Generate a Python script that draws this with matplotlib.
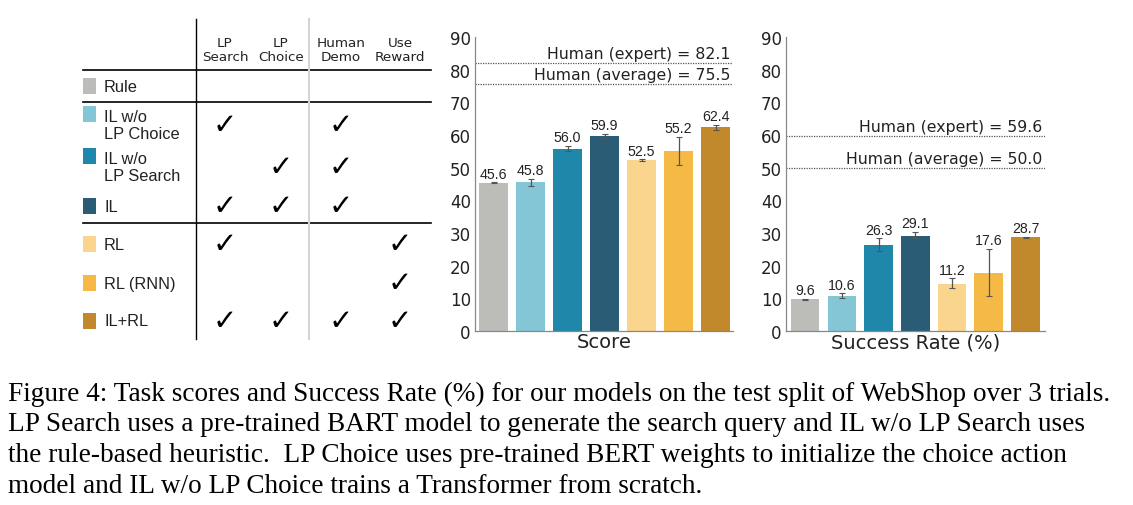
import matplotlib
matplotlib.use("Agg")
import matplotlib.pyplot as plt
from matplotlib.patches import Rectangle

W, H = 1133, 506

methods = ["Rule", "IL w/o\nLP Choice", "IL w/o\nLP Search", "IL", "RL", "RL (RNN)", "IL+RL"]
colors = ["#bcbcb8", "#84c5d6", "#1f87aa", "#2a5c76", "#fad58e", "#f5ba45", "#c1892c"]
columns = ["LP\nSearch", "LP\nChoice", "Human\nDemo", "Use\nReward"]
checks = [
    [0, 0, 0, 0],
    [1, 0, 1, 0],
    [0, 1, 1, 0],
    [1, 1, 1, 0],
    [1, 0, 0, 1],
    [0, 0, 0, 1],
    [1, 1, 1, 1],
]

# bar heights (as drawn), error ranges and printed labels
score = [45.4, 45.6, 55.8, 59.7, 52.3, 55.0, 62.3]
score_lo = [45.3, 44.5, 55.0, 59.2, 52.0, 50.8, 61.5]
score_hi = [45.5, 46.5, 56.7, 60.4, 52.6, 59.4, 63.1]
score_lbl = ["45.6", "45.8", "56.0", "59.9", "52.5", "55.2", "62.4"]
score_human = [("Human (expert) = 82.1", 82.1), ("Human (average) = 75.5", 75.5)]

succ = [9.7, 10.7, 26.4, 29.2, 14.5, 17.7, 28.7]
succ_lo = [9.6, 10.1, 24.5, 28.4, 13.3, 10.7, 28.6]
succ_hi = [9.8, 11.5, 28.4, 30.3, 16.1, 25.1, 28.8]
succ_lbl = ["9.6", "10.6", "26.3", "29.1", "11.2", "17.6", "28.7"]
succ_human = [("Human (expert) = 59.6", 59.6), ("Human (average) = 50.0", 50.0)]

caption = ("Figure 4: Task scores and Success Rate (%) for our models on the test split of WebShop over 3 trials.\n"
           "LP Search uses a pre-trained BART model to generate the search query and IL w/o LP Search uses\n"
           "the rule-based heuristic.  LP Choice uses pre-trained BERT weights to initialize the choice action\n"
           "model and IL w/o LP Choice trains a Transformer from scratch.")

fig = plt.figure(figsize=(W / 100, H / 100), dpi=100)
bg = fig.add_axes([0, 0, 1, 1])
bg.set_xlim(0, W); bg.set_ylim(H, 0); bg.axis("off")

# ---- table on the left (pixel coordinates) ----
col_x = [225, 281, 341, 400]
row_y = [87, 126, 168, 207, 245, 284, 322]
for cx, name in zip(col_x, columns):
    bg.text(cx, 50, name, ha="center", va="center", fontsize=9.7, linespacing=1.1, color="#222")
for yy in [71, 103, 224]:
    bg.plot([83, 431], [yy, yy], color="k", lw=1.2)
bg.plot([196, 196], [20, 340], color="k", lw=1.0)
bg.plot([309, 309], [20, 340], color="#d4d4d4", lw=1.5)
for i, (m, c) in enumerate(zip(methods, colors)):
    y = row_y[i]
    if "\n" in m:
        bg.add_patch(Rectangle((83, y - 19), 13, 16, color=c, lw=0))
        bg.text(104, y, m, ha="left", va="center", fontsize=11.8, family="Liberation Sans",
                linespacing=1.1, color="#222")
    else:
        bg.add_patch(Rectangle((83, y - 8), 13, 16, color=c, lw=0))
        bg.text(104, y, m, ha="left", va="center", fontsize=11.8, family="Liberation Sans", color="#222")
    for j, on in enumerate(checks[i]):
        if on:
            bg.text(col_x[j], y, "\u2713", ha="center", va="center", fontsize=21,
                    fontweight="bold", color="k")

# caption
bg.text(8, 440, caption, ha="left", va="center", fontsize=19.6, family="Liberation Serif",
        linespacing=1.3, color="k")


def bar_panel(x0, x1, vals, lo, hi, lbls, human, xlabel, xlim):
    ax = fig.add_axes([x0 / W, (H - 332) / H, (x1 - x0) / W, (332 - 38) / H])
    xs = list(range(len(vals)))
    ax.bar(xs, vals, width=0.78, color=colors, zorder=2)
    ax.errorbar(xs, vals, yerr=[[v - l for v, l in zip(vals, lo)], [h - v for v, h in zip(vals, hi)]],
                fmt="none", ecolor="#555", elinewidth=0.9, capsize=2, capthick=0.8, zorder=3)
    for x, h, t in zip(xs, hi, lbls):
        ax.text(x, h + 0.5, t, ha="center", va="bottom", fontsize=10.2,
                family="Liberation Sans", color="#222")
    for t, v in human:
        ax.axhline(v, color="#555", ls=(0, (1, 1)), lw=0.9, zorder=1)
        ax.text(xlim[1] - 0.08, v + 0.6, t, ha="right", va="bottom", fontsize=11.3, color="#222")
    ax.set_xlim(*xlim); ax.set_ylim(0, 90)
    ax.set_yticks(range(0, 91, 10))
    ax.tick_params(axis="y", length=0, labelsize=12, pad=3, labelcolor="#222")
    ax.set_xticks([])
    ax.set_xlabel(xlabel, fontsize=14, labelpad=1, color="#222")
    for s in ["top", "right"]:
        ax.spines[s].set_visible(False)
    for s in ["left", "bottom"]:
        ax.spines[s].set_color("#888")
        ax.spines[s].set_linewidth(0.9)
    return ax


bar_panel(475, 733, score, score_lo, score_hi, score_lbl, score_human, "Score", (-0.5, 6.47))
bar_panel(786, 1045, succ, succ_lo, succ_hi, succ_lbl, succ_human, "Success Rate (%)", (-0.52, 6.53))

fig.savefig("out.png", dpi=100)
